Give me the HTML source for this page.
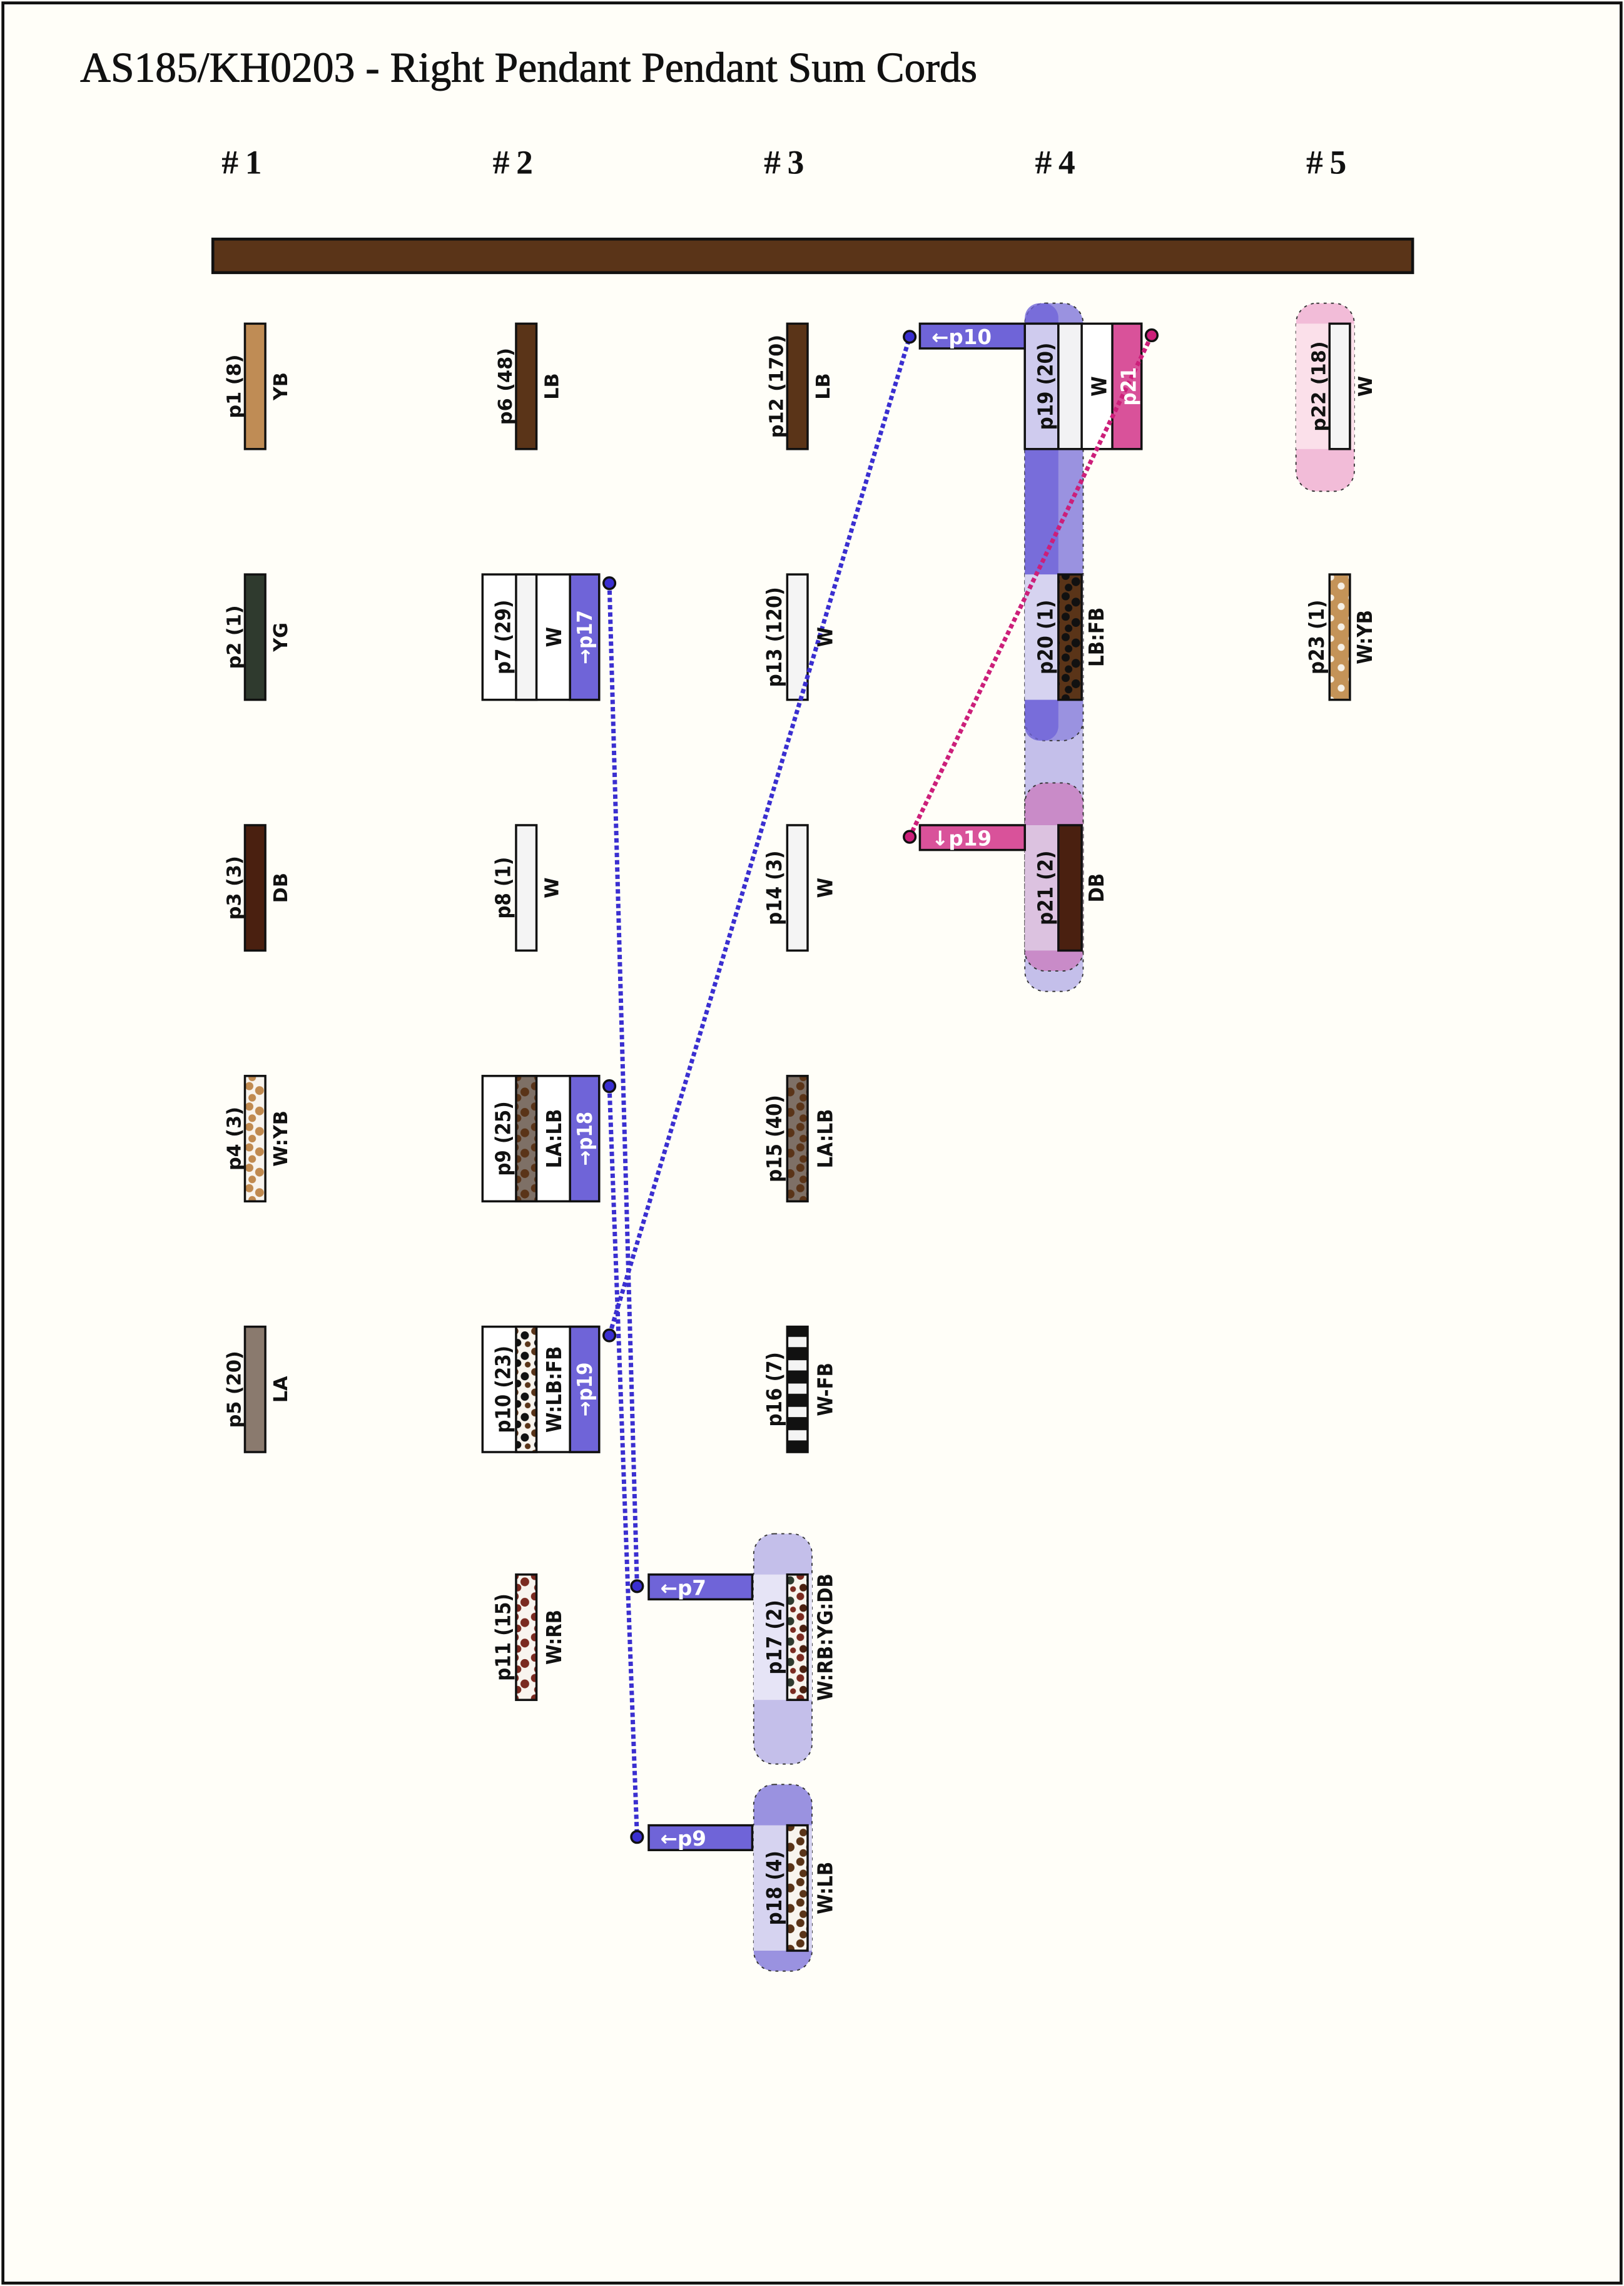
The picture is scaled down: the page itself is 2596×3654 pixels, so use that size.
<!DOCTYPE html>
<html><head><meta charset="utf-8"><style>
html,body{margin:0;padding:0;background:#fffef8}
svg{display:block}
.t{font-family:"DejaVu Sans","Liberation Sans",sans-serif;font-weight:bold;font-size:13px;fill:#111}
.n{font-family:"Liberation Sans Narrow","DejaVu Sans Condensed","Liberation Sans",sans-serif;font-weight:bold;font-size:14px;fill:#111}
.w{fill:#fff}
.h{font-family:"Liberation Serif",serif;font-size:23px;font-weight:bold;fill:#111}
.b{font-family:"DejaVu Sans","Liberation Sans",sans-serif;font-weight:bold;font-size:14px;fill:#fff}
</style></head><body>
<svg width="2596" height="3654" viewBox="0 0 1114 1568" xmlns="http://www.w3.org/2000/svg">
<defs>
<pattern id="wyb" width="14" height="14" patternUnits="userSpaceOnUse"><rect width="14" height="14" fill="#f8f4ee"/><circle cx="3" cy="3" r="2.8" fill="#c08a50"/><circle cx="10" cy="6" r="3" fill="#c08a50"/><circle cx="5" cy="11" r="2.6" fill="#c08a50"/></pattern>
<pattern id="ywb" width="14" height="14" patternUnits="userSpaceOnUse"><rect width="14" height="14" fill="#c49358"/><circle cx="3" cy="4" r="2.2" fill="#f6f0e6"/><circle cx="10" cy="10" r="2.4" fill="#f6f0e6"/></pattern>
<pattern id="lalb" width="14" height="14" patternUnits="userSpaceOnUse"><rect width="14" height="14" fill="#7e7066"/><circle cx="3" cy="3" r="2.8" fill="#5a3418"/><circle cx="10" cy="7" r="3" fill="#5a3418"/><circle cx="5" cy="11" r="2.6" fill="#5a3418"/></pattern>
<pattern id="wlbfb" width="14" height="14" patternUnits="userSpaceOnUse"><rect width="14" height="14" fill="#f8f4ee"/><circle cx="3" cy="3" r="2.6" fill="#5a3418"/><circle cx="10" cy="6" r="2.8" fill="#111"/><circle cx="5" cy="11" r="2.6" fill="#111"/><circle cx="12" cy="12" r="2" fill="#5a3418"/></pattern>
<pattern id="wrb" width="14" height="14" patternUnits="userSpaceOnUse"><rect width="14" height="14" fill="#f8f4ee"/><circle cx="3" cy="3" r="2.8" fill="#7a2a20"/><circle cx="10" cy="7" r="3" fill="#7a2a20"/><circle cx="5" cy="11" r="2.6" fill="#7a2a20"/></pattern>
<pattern id="wmix" width="14" height="14" patternUnits="userSpaceOnUse"><rect width="14" height="14" fill="#f8f4ee"/><circle cx="3" cy="3" r="2.6" fill="#7a2a20"/><circle cx="10" cy="6" r="2.8" fill="#2f3a2e"/><circle cx="5" cy="11" r="2.6" fill="#4a2010"/><circle cx="12" cy="12" r="2" fill="#7a2a20"/></pattern>
<pattern id="wlb" width="14" height="14" patternUnits="userSpaceOnUse"><rect width="14" height="14" fill="#f8f4ee"/><circle cx="3" cy="3" r="2.8" fill="#5a3418"/><circle cx="10" cy="7" r="3" fill="#5a3418"/><circle cx="5" cy="11" r="2.6" fill="#5a3418"/></pattern>
<pattern id="lbfb" width="14" height="14" patternUnits="userSpaceOnUse"><rect width="14" height="14" fill="#5a3418"/><circle cx="3" cy="3" r="2.8" fill="#111"/><circle cx="10" cy="7" r="3" fill="#111"/><circle cx="5" cy="11" r="2.6" fill="#111"/></pattern>
<pattern id="wfb" width="14" height="16" patternUnits="userSpaceOnUse"><rect width="14" height="16" fill="#111"/><rect y="5" width="14" height="7" fill="#f4f4f4"/></pattern>
</defs>
<rect x="0" y="0" width="1114" height="1568" fill="#fffef8"/>
<rect x="2" y="2" width="1110" height="1564" fill="none" stroke="#111" stroke-width="2"/>
<text x="55" y="56" style="font-family:'Liberation Serif',serif;font-size:29px;fill:#111;stroke:#111;stroke-width:0.4">AS185/KH0203 - Right Pendant Pendant Sum Cords</text>
<text x="152" y="119" class="h">#&#8201;1</text>
<text x="338" y="119" class="h">#&#8201;2</text>
<text x="524" y="119" class="h">#&#8201;3</text>
<text x="710" y="119" class="h">#&#8201;4</text>
<text x="896" y="119" class="h">#&#8201;5</text>
<rect x="146" y="164" width="823" height="23" fill="#5a3418" stroke="#111" stroke-width="2"/>

<rect x="703" y="208" width="40" height="472" rx="14" fill="#c4bfea" stroke="#333" stroke-width="0.8" stroke-dasharray="2,3"/>
<rect x="703" y="208" width="40" height="300" rx="14" fill="#9a92e0" stroke="#333" stroke-width="0.8" stroke-dasharray="2,3"/>
<rect x="703" y="208" width="23" height="300" rx="10" fill="#6f64d8" opacity="0.8"/>
<rect x="703" y="537" width="40" height="129" rx="14" fill="#c98bc8" stroke="#333" stroke-width="0.8" stroke-dasharray="2,3"/>
<rect x="703" y="394" width="40" height="86" fill="#d6d3f0"/>
<rect x="703" y="566" width="40" height="86" fill="#dcc2e0"/>
<rect x="889" y="208" width="40" height="129" rx="14" fill="#f2bcd8" stroke="#333" stroke-width="0.8" stroke-dasharray="2,3"/>
<rect x="889" y="222" width="40" height="86" fill="#fbe0ea"/>
<rect x="517" y="1052" width="40" height="158" rx="14" fill="#c4bfea" stroke="#333" stroke-width="0.8" stroke-dasharray="2,3"/>
<rect x="517" y="1224" width="40" height="128" rx="14" fill="#9a92e0" stroke="#333" stroke-width="0.8" stroke-dasharray="2,3"/>
<rect x="517" y="1080" width="40" height="86" fill="#e6e4f6"/>
<rect x="517" y="1252" width="40" height="86" fill="#d6d3f0"/>

<g stroke="#111" stroke-width="1.5">
<rect x="168" y="222" width="14" height="86" fill="#bf8c55"/>
<rect x="168" y="394" width="14" height="86" fill="#2f3a2e"/>
<rect x="168" y="566" width="14" height="86" fill="#4a2010"/>
<rect x="168" y="738" width="14" height="86" fill="url(#wyb)"/>
<rect x="168" y="910" width="14" height="86" fill="#8a7a6e"/>
<rect x="354" y="222" width="14" height="86" fill="#5a3418"/>
<rect x="354" y="566" width="14" height="86" fill="#f4f4f4"/>
<rect x="354" y="1080" width="14" height="86" fill="url(#wrb)"/>
<rect x="540" y="222" width="14" height="86" fill="#5a3418"/>
<rect x="540" y="394" width="14" height="86" fill="#f4f4f4"/>
<rect x="540" y="566" width="14" height="86" fill="#f4f4f4"/>
<rect x="540" y="738" width="14" height="86" fill="url(#lalb)"/>
<rect x="540" y="910" width="14" height="86" fill="url(#wfb)"/>
<rect x="540" y="1080" width="14" height="86" fill="url(#wmix)"/>
<rect x="540" y="1252" width="14" height="86" fill="url(#wlb)"/>
<rect x="726" y="394" width="16" height="86" fill="url(#lbfb)"/>
<rect x="726" y="566" width="16" height="86" fill="#4a2010"/>
<rect x="912" y="222" width="14" height="86" fill="#f4f4f4"/>
<rect x="912" y="394" width="14" height="86" fill="url(#ywb)"/>
</g>

<g stroke="#111" stroke-width="1.5">
<rect x="331" y="394" width="80" height="86" fill="#fff"/>
<rect x="354" y="394" width="14" height="86" fill="#f4f4f4"/>
<rect x="391" y="394" width="20" height="86" fill="#6f64d8"/>
<rect x="331" y="738" width="80" height="86" fill="#fff"/>
<rect x="354" y="738" width="14" height="86" fill="url(#lalb)"/>
<rect x="391" y="738" width="20" height="86" fill="#6f64d8"/>
<rect x="331" y="910" width="80" height="86" fill="#fff"/>
<rect x="354" y="910" width="14" height="86" fill="url(#wlbfb)"/>
<rect x="391" y="910" width="20" height="86" fill="#6f64d8"/>
<rect x="703" y="222" width="80" height="86" fill="#fff"/>
<rect x="703" y="222" width="23" height="86" fill="#cfcbee"/>
<rect x="726" y="222" width="16" height="86" fill="#f2f2f4"/>
<rect x="763" y="222" width="20" height="86" fill="#d9529a"/>
<rect x="631" y="222" width="72" height="17" fill="#6f64d8"/>
<rect x="631" y="566" width="72" height="17" fill="#d9529a"/>
<rect x="445" y="1080" width="71" height="17" fill="#6f64d8"/>
<rect x="445" y="1252" width="71" height="17" fill="#6f64d8"/>
</g>
<text x="639" y="236" class="b">←p10</text>
<text x="639" y="580" class="b">↓p19</text>
<text x="453" y="1094" class="b">←p7</text>
<text x="453" y="1266" class="b">←p9</text>

<g fill="none" stroke-width="3" stroke-dasharray="3,2">
<path d="M418 400 L437 1088" stroke="#3a2fd0"/>
<path d="M418 745 L437 1260" stroke="#3a2fd0"/>
<path d="M418 916 L624 231" stroke="#3a2fd0"/>
<path d="M790 230 L624 574" stroke="#cc1f7a"/>
</g>
<g stroke="#111" stroke-width="1.5">
<circle cx="418" cy="400" r="4" fill="#3a2fd0"/>
<circle cx="418" cy="745" r="4" fill="#3a2fd0"/>
<circle cx="418" cy="916" r="4" fill="#3a2fd0"/>
<circle cx="437" cy="1088" r="4" fill="#3a2fd0"/>
<circle cx="437" cy="1260" r="4" fill="#3a2fd0"/>
<circle cx="624" cy="231" r="4" fill="#3a2fd0"/>
<circle cx="790" cy="230" r="4" fill="#cc1f7a"/>
<circle cx="624" cy="574" r="4" fill="#cc1f7a"/>
</g>

<g class="t">
<text transform="translate(165,265) rotate(-90)" text-anchor="middle">p1 (8)</text>
<text transform="translate(197,265) rotate(-90)" text-anchor="middle">YB</text>
<text transform="translate(165,437) rotate(-90)" text-anchor="middle">p2 (1)</text>
<text transform="translate(197,437) rotate(-90)" text-anchor="middle">YG</text>
<text transform="translate(165,609) rotate(-90)" text-anchor="middle">p3 (3)</text>
<text transform="translate(197,609) rotate(-90)" text-anchor="middle">DB</text>
<text transform="translate(165,781) rotate(-90)" text-anchor="middle">p4 (3)</text>
<text transform="translate(197,781) rotate(-90)" text-anchor="middle">W:YB</text>
<text transform="translate(165,953) rotate(-90)" text-anchor="middle">p5 (20)</text>
<text transform="translate(197,953) rotate(-90)" text-anchor="middle">LA</text>
<text transform="translate(351,265) rotate(-90)" text-anchor="middle">p6 (48)</text>
<text transform="translate(383,265) rotate(-90)" text-anchor="middle">LB</text>
<text transform="translate(383,609) rotate(-90)" text-anchor="middle">W</text>
<text transform="translate(537,265) rotate(-90)" text-anchor="middle">p12 (170)</text>
<text transform="translate(569,265) rotate(-90)" text-anchor="middle">LB</text>
<text transform="translate(909,265) rotate(-90)" text-anchor="middle">p22 (18)</text>
<text transform="translate(941,265) rotate(-90)" text-anchor="middle">W</text>
</g>
<g class="n">
<text transform="translate(350,437) rotate(-90)" text-anchor="middle">p7 (29)</text>
<text transform="translate(385,437) rotate(-90)" text-anchor="middle">W</text>
<text transform="translate(406,437) rotate(-90)" text-anchor="middle" class="n w">→p17</text>
<text transform="translate(350,609) rotate(-90)" text-anchor="middle">p8 (1)</text>
<text transform="translate(350,781) rotate(-90)" text-anchor="middle">p9 (25)</text>
<text transform="translate(385,781) rotate(-90)" text-anchor="middle">LA:LB</text>
<text transform="translate(406,781) rotate(-90)" text-anchor="middle" class="n w">→p18</text>
<text transform="translate(350,953) rotate(-90)" text-anchor="middle">p10 (23)</text>
<text transform="translate(385,953) rotate(-90)" text-anchor="middle">W:LB:FB</text>
<text transform="translate(406,953) rotate(-90)" text-anchor="middle" class="n w">→p19</text>
<text transform="translate(350,1123) rotate(-90)" text-anchor="middle">p11 (15)</text>
<text transform="translate(385,1123) rotate(-90)" text-anchor="middle">W:RB</text>
<text transform="translate(536,437) rotate(-90)" text-anchor="middle">p13 (120)</text>
<text transform="translate(571,437) rotate(-90)" text-anchor="middle">W</text>
<text transform="translate(536,609) rotate(-90)" text-anchor="middle">p14 (3)</text>
<text transform="translate(571,609) rotate(-90)" text-anchor="middle">W</text>
<text transform="translate(536,781) rotate(-90)" text-anchor="middle">p15 (40)</text>
<text transform="translate(571,781) rotate(-90)" text-anchor="middle">LA:LB</text>
<text transform="translate(536,953) rotate(-90)" text-anchor="middle">p16 (7)</text>
<text transform="translate(571,953) rotate(-90)" text-anchor="middle">W-FB</text>
<text transform="translate(536,1123) rotate(-90)" text-anchor="middle">p17 (2)</text>
<text transform="translate(571,1123) rotate(-90)" text-anchor="middle">W:RB:YG:DB</text>
<text transform="translate(536,1295) rotate(-90)" text-anchor="middle">p18 (4)</text>
<text transform="translate(571,1295) rotate(-90)" text-anchor="middle">W:LB</text>
<text transform="translate(722,265) rotate(-90)" text-anchor="middle">p19 (20)</text>
<text transform="translate(759,265) rotate(-90)" text-anchor="middle">W</text>
<text transform="translate(779,265) rotate(-90)" text-anchor="middle" class="n w">p21</text>
<text transform="translate(722,437) rotate(-90)" text-anchor="middle">p20 (1)</text>
<text transform="translate(757,437) rotate(-90)" text-anchor="middle">LB:FB</text>
<text transform="translate(722,609) rotate(-90)" text-anchor="middle">p21 (2)</text>
<text transform="translate(757,609) rotate(-90)" text-anchor="middle">DB</text>
<text transform="translate(908,437) rotate(-90)" text-anchor="middle">p23 (1)</text>
<text transform="translate(941,437) rotate(-90)" text-anchor="middle">W:YB</text>
</g>
</svg>
</body></html>
